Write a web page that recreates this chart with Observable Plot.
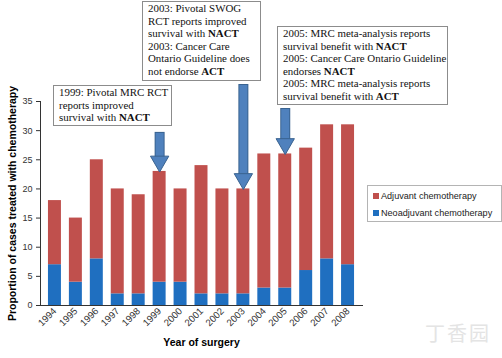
<!DOCTYPE html>
<html>
<head>
<meta charset="utf-8">
<script src="https://cdn.jsdelivr.net/npm/d3@7"></script>
<script src="https://cdn.jsdelivr.net/npm/@observablehq/plot@0.6"></script>
<style>
  body { margin: 0; background: #fff; }
  #wrap { position: relative; width: 502px; height: 358px; overflow: hidden; font-family: "Liberation Sans", Arial, sans-serif; }
  g[aria-label="y-axis label"] text, g[aria-label="x-axis label"] text { font-weight: bold; font-size: 10.5px; fill: #000; }
  g[aria-label="x-axis tick label"] text { font-size: 9.6px; }
  .note { position: absolute; box-sizing: border-box; background: #fff; border: 1px solid #8c8c8c;
          font-family: "Liberation Serif", "Times New Roman", serif; font-size: 10.9px; line-height: 12.6px;
          color: #111; padding: 0 0 0 5px; white-space: nowrap; overflow: hidden; }
  .legend { position: absolute; left: 367px; top: 185px; width: 135px; height: 37px; box-sizing: border-box;
            border: 1px solid #b4b4b4; font-size: 9.1px; color: #222; padding: 2px 0 0 5px; }
  .legend div { height: 17px; line-height: 17px; white-space: nowrap; }
  .legend span { display: inline-block; width: 6px; height: 6px; margin-right: 2px; vertical-align: 0px; }
  .wm { position: absolute; left: 425px; top: 318px; font-family: "Noto Sans CJK SC", sans-serif; font-size: 20px; color: #e4e4e4; letter-spacing: 2px; }
</style>
</head>
<body>
<div id="wrap"></div>
<script>
const years = ["1994","1995","1996","1997","1998","1999","2000","2001","2002","2003","2004","2005","2006","2007","2008"];
const neoadjuvant = [7, 4, 8, 2, 2, 4, 4, 2, 2, 2, 3, 3, 6, 8, 7];
const totals = [18, 15, 25, 20, 19, 23, 20, 24, 20, 20, 26, 26, 27, 31, 31];
const series = ["Adjuvant chemotherapy", "Neoadjuvant chemotherapy"];
const colors = ["#c0504d", "#1f6fc0"];
const yTicks = [0, 5, 10, 15, 20, 25, 30, 35];
const arrowYears = ["1999", "2003", "2005"];
const arrowTops = [29.7, 37.9, 33.8];

const rows = [];
years.forEach((y, i) => {
  rows.push({year: y, type: series[1], value: neoadjuvant[i]});
  rows.push({year: y, type: series[0], value: totals[i] - neoadjuvant[i]});
});
const arrows = arrowYears.map((y, i) => ({year: y, top: arrowTops[i], end: totals[years.indexOf(y)]}));

const chart = Plot.plot({
  width: 502,
  height: 358,
  marginLeft: 40,
  marginRight: 140,
  marginTop: 101,
  marginBottom: 53,
  style: {fontFamily: "Liberation Sans, Arial, sans-serif", fontSize: "9px", color: "#333", background: "transparent", overflow: "visible"},
  x: {domain: years, padding: 0.38, round: false, tickRotate: -45, tickSize: 0, tickPadding: 4, line: true,
      label: "Year of surgery", labelAnchor: "center", labelOffset: 40},
  y: {domain: [0, 35], ticks: yTicks, tickSize: 4, tickPadding: 4, line: true,
      label: "Proportion of cases treated with chemotherapy", labelAnchor: "center", labelOffset: 32, labelArrow: "none"},
  color: {domain: series, range: colors},
  marks: [
    Plot.barY(rows, {x: "year", y: "value", fill: "type", order: [series[1], series[0]]}),
    Plot.ruleX(arrows, {x: "year", y1: "top", y2: "end", insetBottom: 13, stroke: "#3a6390", strokeWidth: 10}),
    Plot.ruleX(arrows, {x: "year", y1: "top", y2: "end", insetBottom: 12, insetTop: 1, stroke: "#4f81bd", strokeWidth: 8}),
    Plot.dot(arrows, {x: "year", y: "end", dy: -10, symbol: "triangle", rotate: 180, r: 6.8, fill: "#4f81bd", stroke: "#3a6390", strokeWidth: 1})
  ]
});

const wrap = document.getElementById("wrap");
wrap.appendChild(chart);
chart.style.position = "absolute";
chart.style.left = "0px";
chart.style.top = "0px";

function note(left, top, width, height, html) {
  const d = document.createElement("div");
  d.className = "note";
  d.style.left = left + "px"; d.style.top = top + "px";
  d.style.width = width + "px"; d.style.height = height + "px";
  d.innerHTML = html;
  wrap.appendChild(d);
}
note(53, 85, 119, 41, "1999: Pivotal MRC RCT<br>reports improved<br>survival with <b>NACT</b>");
note(142, 1, 119, 80, "2003: Pivotal SWOG<br>RCT reports improved<br>survival with <b>NACT</b><br>2003: Cancer Care<br>Ontario Guideline does<br>not endorse <b>ACT</b>");
note(277, 26, 171, 79, "2005: MRC meta-analysis reports<br>survival benefit with <b>NACT</b><br>2005: Cancer Care Ontario Guideline<br>endorses <b>NACT</b><br>2005: MRC meta-analysis reports<br>survival benefit with <b>ACT</b>");

const lg = document.createElement("div");
lg.className = "legend";
lg.innerHTML = series.map((s, i) => `<div><span style="background:${colors[i]}"></span>${s}</div>`).join("");
wrap.appendChild(lg);

const wm = document.createElement("div");
wm.className = "wm";
wm.textContent = "丁香园";
wrap.appendChild(wm);
</script>
</body>
</html>
